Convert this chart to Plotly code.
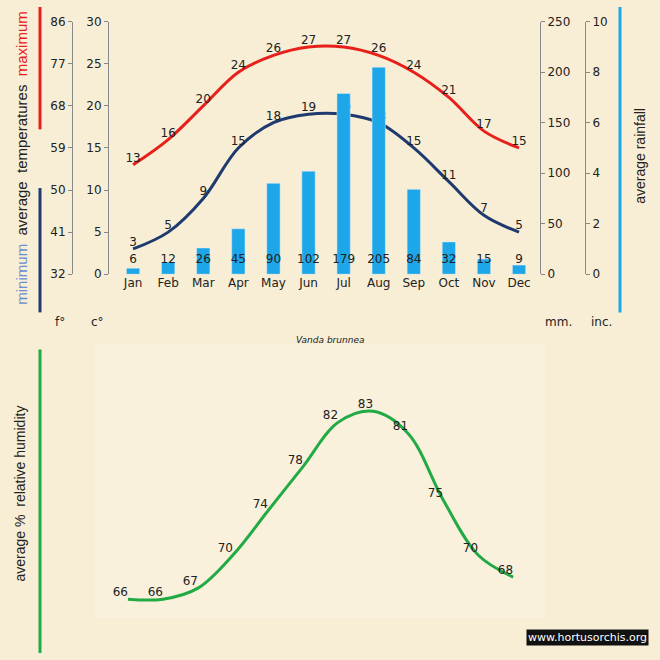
import plotly.graph_objects as go

months = ["Jan","Feb","Mar","Apr","May","Jun","Jul","Aug","Sep","Oct","Nov","Dec"]
tmax = [13,16,20,24,26,27,27,26,24,21,17,15]
tmin = [3,5,9,15,18,19,19,18,15,11,7,5]
rain = [6,12,26,45,90,102,179,205,84,32,15,9]
humid = [66,66,67,70,74,78,82,83,81,75,70,68]
f_ticks = [32,41,50,59,68,77,86]
c_ticks = [0,5,10,15,20,25,30]
mm_ticks = [0,50,100,150,200,250]
in_ticks = [0,2,4,6,8,10]

W = 660
def px(x): return x / W
def py(y): return 1 - y / W

BG = "#f7eed5"
fnt = dict(family="DejaVu Sans", size=12, color="#222")
fig = go.Figure()
xi = list(range(12))

fig.add_bar(x=xi, y=rain, yaxis="y3", marker_color="#1ea7e8", width=0.38, showlegend=False)
fig.add_scatter(x=xi, y=[14]*12, yaxis="y3", mode="text", text=[str(v) for v in rain],
                textfont=fnt, showlegend=False)
fig.add_scatter(x=xi, y=tmax, mode="lines+text", line=dict(color="#e8201c", width=3, shape="spline"),
                text=[str(v) for v in tmax], textposition="top center", textfont=fnt, showlegend=False)
fig.add_scatter(x=xi, y=tmin, mode="lines+text", line=dict(color="#1f3a6e", width=3, shape="spline"),
                text=[str(v) for v in tmin], textposition="top center", textfont=fnt, showlegend=False)
fig.add_scatter(x=xi, y=humid, xaxis="x2", yaxis="y5", mode="lines+text",
                line=dict(color="#22aa44", width=3, shape="spline"),
                text=[str(v) for v in humid], textposition="top left", textfont=fnt, showlegend=False)
fig.add_scatter(x=[None], y=[None], yaxis="y2", showlegend=False)
fig.add_scatter(x=[None], y=[None], yaxis="y4", showlegend=False)

yd = [py(273), py(15)]
ax = dict(showgrid=False, zeroline=False, showline=True, linecolor="#888", ticks="outside",
          tickcolor="#888", ticklen=4, tickfont=fnt)
fig.update_layout(
    width=660, height=660, margin=dict(l=0, r=0, t=0, b=0),
    paper_bgcolor=BG, plot_bgcolor=BG,
    xaxis=dict(domain=[px(118), px(538)], range=[-0.43, 11.54], tickvals=xi, ticktext=months,
               showgrid=False, zeroline=False, showline=False, ticks="", tickfont=fnt, anchor="y"),
    yaxis=dict(domain=yd, range=[0, 30], tickvals=c_ticks, anchor="free", position=px(108), side="left", **ax),
    yaxis2=dict(domain=yd, range=[32, 86], tickvals=f_ticks, overlaying="y", anchor="free",
                position=px(72), side="left", **ax),
    yaxis3=dict(domain=yd, range=[0, 250], tickvals=mm_ticks, overlaying="y", anchor="free",
                position=px(540), side="right", **ax),
    yaxis4=dict(domain=yd, range=[0, 10], tickvals=in_ticks, overlaying="y", anchor="free",
                position=px(585), side="right", **ax),
    xaxis2=dict(domain=[px(95), px(545)], range=[-0.94, 11.91], visible=False, anchor="y5"),
    yaxis5=dict(domain=[py(631), py(351)], range=[63.7, 88.5], visible=False),
)

shapes = [
    dict(type="line", xref="paper", yref="paper", x0=px(40), x1=px(40), y0=py(0), y1=py(125), line=dict(color="#e8201c", width=3)),
    dict(type="line", xref="paper", yref="paper", x0=px(40), x1=px(40), y0=py(185), y1=py(312), line=dict(color="#1f3a6e", width=3)),
    dict(type="line", xref="paper", yref="paper", x0=px(620), x1=px(620), y0=py(0), y1=py(312), line=dict(color="#1ea7e8", width=3)),
    dict(type="line", xref="paper", yref="paper", x0=px(40), x1=px(40), y0=py(350), y1=py(660), line=dict(color="#22aa44", width=3)),
    dict(type="rect", xref="paper", yref="paper", x0=px(95), x1=px(545), y0=py(625), y1=py(345), line=dict(width=0), fillcolor="#f9f1dc", layer="below"),
]
fig.update_layout(shapes=shapes)

LF = "Liberation Sans"
tf = dict(family=LF, size=14, color="#222")
anns = [
    dict(x=px(22), y=py(155), textangle=-90, font=dict(family=LF, size=15, color="#222"),
         text="<span style='color:#6a8fd0'>minimum</span>  average  temperatures  <span style='color:#e8201c'>maximum</span>"),
    dict(x=px(640), y=py(152), textangle=-90, text="average rainfall", font=tf),
    dict(x=px(60), y=py(322), text="f°", font=fnt),
    dict(x=px(97), y=py(322), text="c°", font=fnt),
    dict(x=px(558), y=py(322), text="mm.", font=fnt),
    dict(x=px(601), y=py(322), text="inc.", font=fnt),
    dict(x=px(330), y=py(340), text="<i>Vanda brunnea</i>", font=dict(family="DejaVu Sans", size=9, color="#222")),
    dict(x=px(20), y=py(497), textangle=-90, text="average %  relative humidity", font=tf),
    dict(x=px(587), y=py(644), text="www.hortusorchis.org", bgcolor="#111", font=dict(family="DejaVu Sans", size=11, color="#fff")),
]
for a in anns:
    a.update(xref="paper", yref="paper", showarrow=False, xanchor="center", yanchor="middle")
fig.update_layout(annotations=anns)
fig.write_html("out.html", config={"displayModeBar": False},
               post_script="document.body.style.margin='0';")
